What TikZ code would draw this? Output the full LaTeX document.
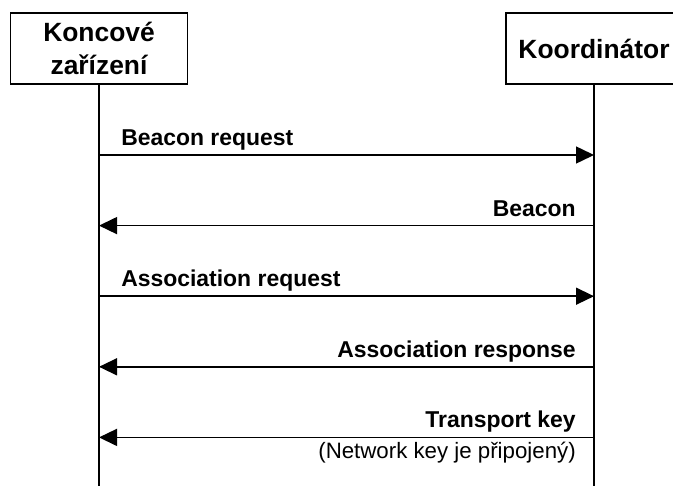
\documentclass[tikz,border=0pt]{standalone}
\usepackage{fontspec}
\setmainfont{Liberation Sans}
\usetikzlibrary{arrows.meta}
\begin{document}
\begin{tikzpicture}[x=0.75pt,y=-0.75pt,
  box/.style={draw,line width=1.1pt,fill=white,inner sep=0pt,minimum height=53.25pt,align=center,
    font=\fontsize{19.8pt}{25pt}\selectfont\bfseries},
  life/.style={line width=1.1pt},
  msg/.style={line width=1.1pt,-{Triangle[length=13.5pt,width=12.75pt]}},
  lbl/.style={inner sep=0pt,font=\fontsize{17.2pt}{20pt}\selectfont\bfseries},
  note/.style={inner sep=0pt,font=\fontsize{16.7pt}{20pt}\selectfont}]
\useasboundingbox (0,0) rectangle (673,485);
\clip (0,0) rectangle (673,485);
% participants
\node[box,minimum width=132.4pt] (dev) at (99,48.5) {Koncové\\zařízení};
\node[box,minimum width=132pt] (coord) at (594,48.5) {Koordinátor};
\coordinate (devend) at (99,486);
\coordinate (coordend) at (594,486);
\draw[life] (dev.south) -- (devend);
\draw[life] (coord.south) -- (coordend);
% anchor points on lifelines
\coordinate (d1) at (99,155);    \coordinate (c1) at (594,155);
\coordinate (d2) at (99,225.6);  \coordinate (c2) at (594,225.6);
\coordinate (d3) at (99,296.2);  \coordinate (c3) at (594,296.2);
\coordinate (d4) at (99,366.8);  \coordinate (c4) at (594,366.8);
\coordinate (d5) at (99,437.4);  \coordinate (c5) at (594,437.4);
% messages
\draw[msg] (d1) -- (c1);
\draw[msg] (c2) -- (d2);
\draw[msg] (d3) -- (c3);
\draw[msg] (c4) -- (d4);
\draw[msg] (c5) -- (d5);
% labels
\node[lbl,anchor=base west] (l1) at (121,145.5) {Beacon request};
\node[lbl,anchor=base east] (l2) at (576,216) {Beacon};
\node[lbl,anchor=base west] (l3) at (121,286.7) {Association request};
\node[lbl,anchor=base east] (l4) at (576,357.3) {Association response};
\node[lbl,anchor=base east] (l5) at (576,427.9) {Transport key};
\node[note,anchor=base east] (n5) at (576,458) {(Network key je připojený)};
\end{tikzpicture}
\end{document}
